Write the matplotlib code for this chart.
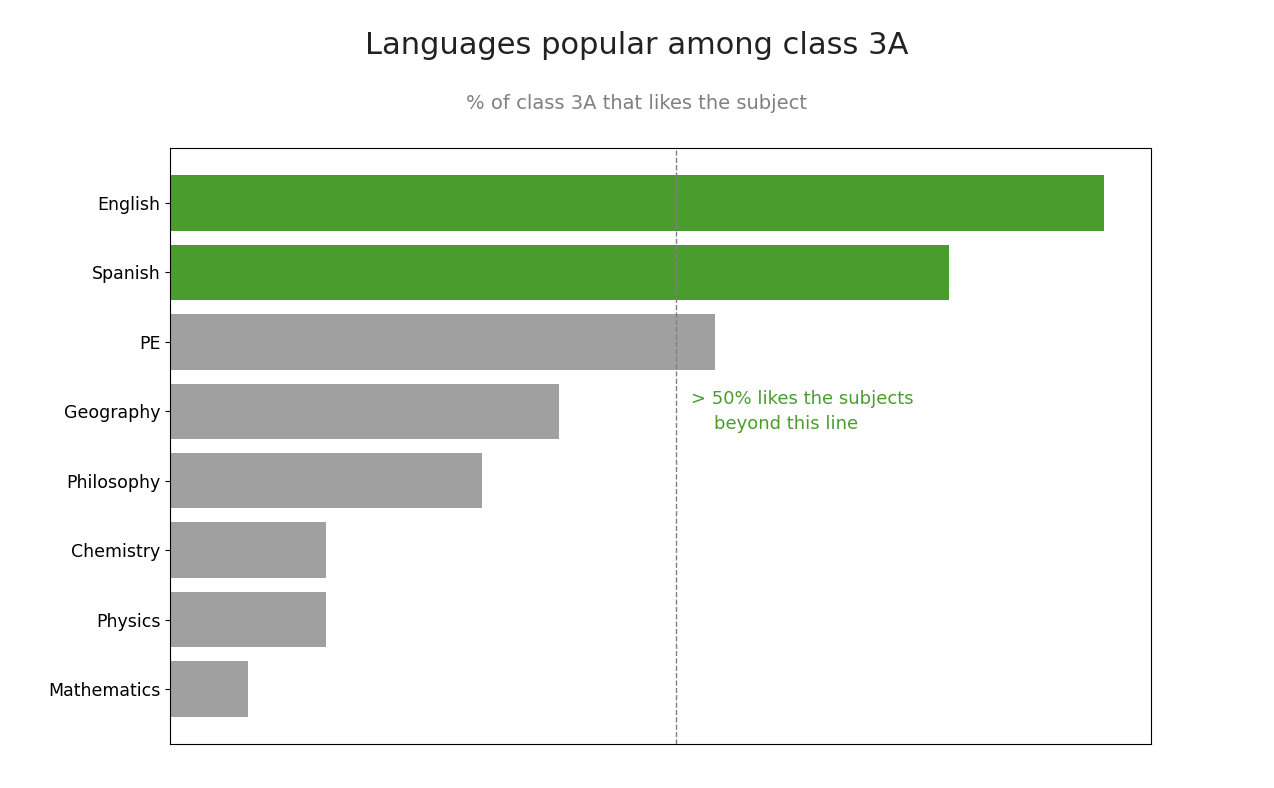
import numpy as np
import matplotlib.pyplot as plt

subjects = ["Mathematics", "Physics", "Chemistry", "Philosophy", "Geography", "PE", "Spanish", "English"]
likes = [1, 2, 2, 4, 5, 7, 10, 12]
class_size = 13
pct = [100 * v / class_size for v in likes]

green = "#489d2d"
grey = "#a0a0a0"
colors = [green if p > 60 else grey for p in pct]

fig = plt.figure(figsize=(12.74, 7.88), dpi=100)
ax = fig.add_axes([0.1335, 0.056, 0.77, 0.756])
ax.barh(subjects, pct, color=colors, height=0.8)
ax.axvline(50, color="grey", linestyle="--", linewidth=1)
ax.set_xticks([])
ax.tick_params(axis="y", labelsize=12.5)
ax.text(51.5, 4.0, "> 50% likes the subjects\n    beyond this line", color=green,
        fontsize=13, va="center", linespacing=1.5)

fig.text(0.5, 0.942, "Languages popular among class 3A", ha="center", va="center", fontsize=22, color="#222222")
fig.text(0.5, 0.869, "% of class 3A that likes the subject", ha="center", va="center", fontsize=14, color="grey")

fig.savefig("out.png", dpi=100)
